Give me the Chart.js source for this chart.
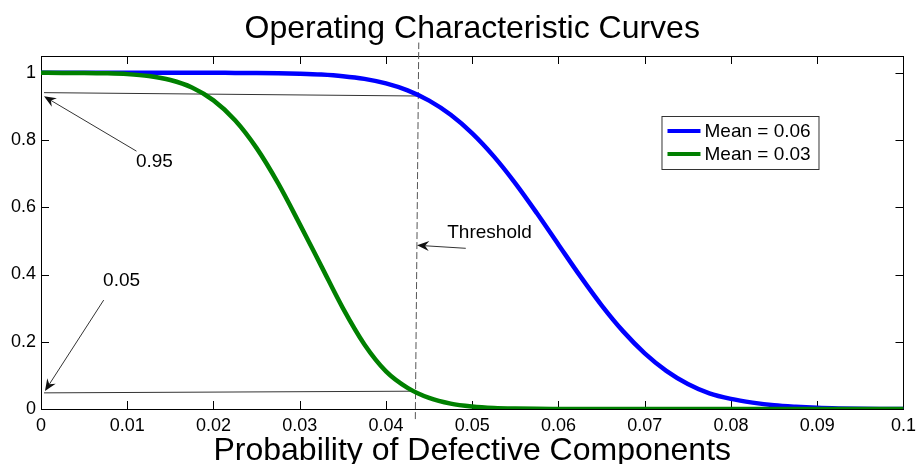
<!DOCTYPE html>
<html><head><meta charset="utf-8">
<script src="https://cdn.jsdelivr.net/npm/chart.js@4/dist/chart.umd.min.js"></script>
<style>html,body{margin:0;padding:0;background:#fff}#wrap{width:922px;height:464px;position:relative}</style>
</head><body><div id="wrap"><canvas id="c"></canvas></div>
<script>
// ---- data ----
const xValues = [0,0.0025,0.005,0.0075,0.01,0.0125,0.015,0.0175,0.02,0.0225,0.025,0.0275,0.03,0.0325,0.035,0.0375,0.04,0.0425,0.045,0.0475,0.05,0.0525,0.055,0.0575,0.06,0.0625,0.065,0.0675,0.07,0.0725,0.075,0.0775,0.08,0.0825,0.085,0.0875,0.09,0.0925,0.095,0.0975,0.1];
const mean006 = [1,1,1,1,1,1,1,1,0.9999,0.9998,0.9995,0.9988,0.9974,0.9949,0.9901,0.9819,0.9684,0.9477,0.9172,0.8751,0.8199,0.7515,0.6713,0.5822,0.4888,0.3959,0.3085,0.2309,0.1656,0.1136,0.0745,0.0466,0.03,0.019,0.011,0.0065,0.0035,0.0018,0.0008,0.0003,0.0001];
const mean003 = [1,0.9998,0.9995,0.9985,0.9961,0.9904,0.9786,0.9563,0.918,0.859,0.776,0.671,0.550,0.425,0.300,0.192,0.112,0.063,0.033,0.016,0.0075,0.0031,0.0012,0.0004,0.0001,0,0,0,0,0,0,0,0,0,0,0,0,0,0,0,0];
const seriesLabels = ['Mean = 0.06','Mean = 0.03'];
const xTicks = [0,0.01,0.02,0.03,0.04,0.05,0.06,0.07,0.08,0.09,0.1];
const xTickLabels = ['0','0.01','0.02','0.03','0.04','0.05','0.06','0.07','0.08','0.09','0.1'];
const yTicks = [0,0.2,0.4,0.6,0.8,1];
const yTickLabels = ['0','0.2','0.4','0.6','0.8','1'];
// reference lines (data coordinates)
const upperLineX = [0.00035,0.0437];
const upperLineY = [0.941,0.931];
const lowerLineX = [0.00035,0.0434];
const lowerLineY = [0.048,0.053];
const thresholdX = [0.0434,0.0438];
const thresholdY = [-0.03,1.09];
// annotations: text and arrows in data coordinates
const noteTexts = ['0.95','0.05','Threshold'];
const noteTextX = [0.01315,0.00934,0.0520];
const noteTextY = [0.734,0.380,0.523];
const arrowFromX = [0.01107,0.00727,0.04925];
const arrowFromY = [0.767,0.324,0.478];
const arrowToX = [0.00035,0.00046,0.0436];
const arrowToY = [0.930,0.0535,0.487];

const FONT = '"Liberation Sans", Arial, Helvetica, sans-serif';
const pts = (xs, ys) => xs.map((v,i)=>({x:v,y:ys[i]}));

const framePlugin = {
  id:'frame',
  beforeDatasetsDraw(chart){
    const {ctx, chartArea:a, scales:{x,y}} = chart;
    ctx.save();
    ctx.strokeStyle='#000'; ctx.lineWidth=1;
    ctx.strokeRect(Math.round(a.left)+0.5, Math.round(a.top)+0.5, Math.round(a.right-a.left), Math.round(a.bottom-a.top));
    ctx.beginPath();
    xTicks.forEach(v=>{const p=Math.round(x.getPixelForValue(v))+0.5;
      ctx.moveTo(p,a.bottom); ctx.lineTo(p,a.bottom-8); ctx.moveTo(p,a.top); ctx.lineTo(p,a.top+8);});
    yTicks.forEach(v=>{const p=Math.round(y.getPixelForValue(v))+0.5;
      ctx.moveTo(a.left,p); ctx.lineTo(a.left+8,p); ctx.moveTo(a.right,p); ctx.lineTo(a.right-8,p);});
    ctx.stroke();
    ctx.restore();
  }
};

function arrow(ctx,x1,y1,x2,y2){
  const ang=Math.atan2(y2-y1,x2-x1), L=12, W=5, N=8;
  const c=Math.cos(ang), s=Math.sin(ang);
  ctx.beginPath(); ctx.moveTo(x1,y1); ctx.lineTo(x2-c*N,y2-s*N); ctx.stroke();
  ctx.beginPath();
  ctx.moveTo(x2,y2);
  ctx.lineTo(x2-L*c+W*s, y2-L*s-W*c);
  ctx.lineTo(x2-N*c, y2-N*s);
  ctx.lineTo(x2-L*c-W*s, y2-L*s+W*c);
  ctx.closePath(); ctx.fill();
}

const notesPlugin = {
  id:'notes',
  afterDraw(chart){
    const {ctx, chartArea:a, scales:{x,y}} = chart;
    ctx.save();
    ctx.strokeStyle='#333'; ctx.fillStyle='#111'; ctx.lineWidth=1;
    arrowFromX.forEach((v,i)=>arrow(ctx,x.getPixelForValue(v),y.getPixelForValue(arrowFromY[i]),x.getPixelForValue(arrowToX[i]),y.getPixelForValue(arrowToY[i])));
    ctx.fillStyle='#000'; ctx.font='19px '+FONT; ctx.textAlign='center'; ctx.textBaseline='middle';
    noteTexts.forEach((t,i)=>ctx.fillText(t,x.getPixelForValue(noteTextX[i]),y.getPixelForValue(noteTextY[i])));
    // legend
    const ds = chart.data.datasets.filter(d=>d.inLegend);
    const bx=a.right-242, by=a.top+60, bw=157, bh=53;
    ctx.fillStyle='#fff'; ctx.fillRect(bx,by,bw,bh);
    ctx.strokeStyle='#333'; ctx.lineWidth=1; ctx.strokeRect(bx+0.5,by+0.5,bw,bh);
    ds.forEach((d,i)=>{
      const cy=by+15+i*23;
      ctx.strokeStyle=d.borderColor; ctx.lineWidth=4;
      ctx.beginPath(); ctx.moveTo(bx+6,cy); ctx.lineTo(bx+39,cy); ctx.stroke();
      ctx.fillStyle='#000'; ctx.textAlign='left'; ctx.fillText(d.label,bx+43,cy+1);
    });
    ctx.restore();
  }
};

new Chart(document.getElementById('c'), {
  type:'line',
  data:{datasets:[
    {label:seriesLabels[0], inLegend:true, data:pts(xValues,mean006), borderColor:'#0000ff', borderWidth:4.5, pointRadius:0, cubicInterpolationMode:'monotone', order:1},
    {label:seriesLabels[1], inLegend:true, data:pts(xValues,mean003), borderColor:'#008000', borderWidth:4.5, pointRadius:0, cubicInterpolationMode:'monotone', order:0},
    {label:'upper', data:pts(upperLineX,upperLineY), borderColor:'#333', borderWidth:1, pointRadius:0, order:3},
    {label:'lower', data:pts(lowerLineX,lowerLineY), borderColor:'#333', borderWidth:1, pointRadius:0, order:3},
    {label:'threshold', data:pts(thresholdX,thresholdY), borderColor:'#555', borderWidth:1, borderDash:[7,3], pointRadius:0, order:3, clip:false}
  ]},
  options:{
    responsive:true, maintainAspectRatio:false, animation:false, events:[],
    layout:{padding:{left:0,right:14,top:0,bottom:0}},
    plugins:{
      legend:{display:false}, tooltip:{enabled:false},
      title:{display:true, fullSize:false, text:'Operating Characteristic Curves', color:'#000', font:{family:FONT,size:32,weight:'normal',lineHeight:1.2}, padding:{top:9.5,bottom:8.1}}
    },
    scales:{
      x:{type:'linear', min:0, max:0.1,
        afterBuildTicks:s=>{s.ticks=xTicks.map(v=>({value:v}));},
        afterFit:s=>{s.height=55;},
        grid:{display:false,drawTicks:false}, border:{display:false},
        ticks:{color:'#000', font:{family:FONT,size:18}, padding:6, maxRotation:0, autoSkip:false, callback:(v,i)=>xTickLabels[i]},
        title:{display:true, text:'Probability of Defective Components', color:'#000', font:{family:FONT,size:32,lineHeight:0.8}, padding:{top:0,bottom:0}}
      },
      y:{type:'linear', min:0, max:1.05,
        afterBuildTicks:s=>{s.ticks=yTicks.map(v=>({value:v}));},
        afterFit:s=>{s.width=41;},
        grid:{display:false,drawTicks:false}, border:{display:false},
        ticks:{color:'#000', font:{family:FONT,size:18}, padding:5, callback:(v,i)=>yTickLabels[i]}
      }
    }
  },
  plugins:[framePlugin, notesPlugin]
});
</script></body></html>
